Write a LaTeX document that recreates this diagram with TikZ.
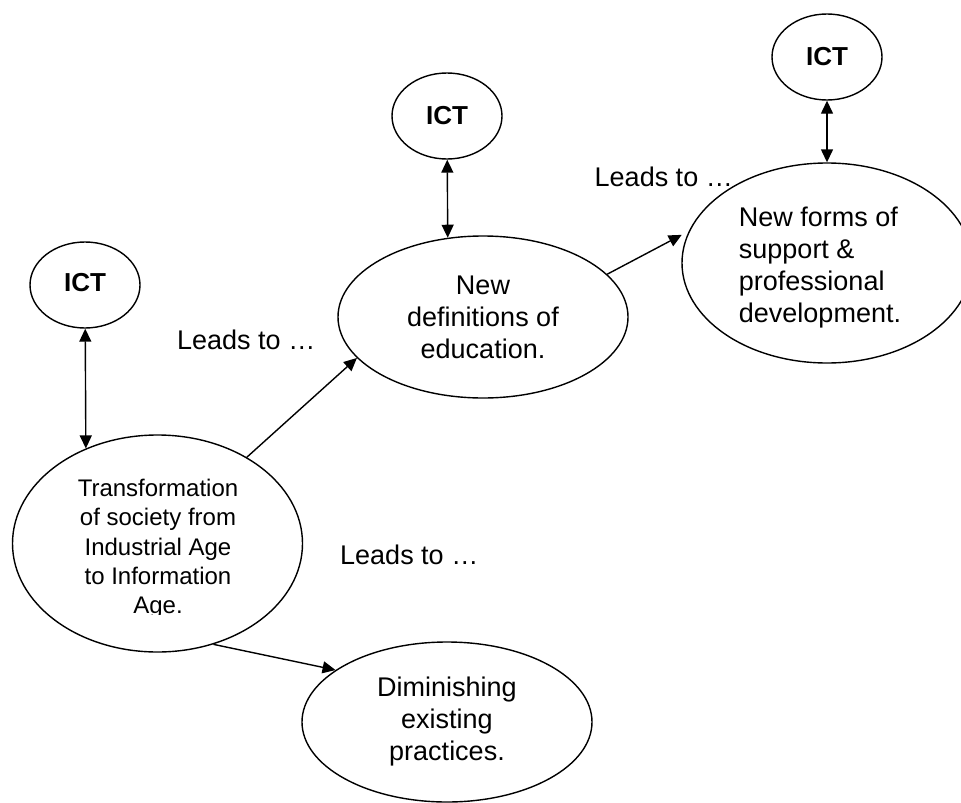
\documentclass[tikz,border=0pt]{standalone}
\usepackage{fontspec}
\setmainfont{Liberation Sans}
\usetikzlibrary{shapes.geometric,arrows.meta}
\begin{document}
\begin{tikzpicture}[x=1pt,y=-1pt,
  bubble/.style={draw, ellipse, line width=1.4pt, inner sep=0pt, minimum width=290pt},
  ictbubble/.style={draw, ellipse, line width=1.4pt, inner sep=0pt,
    minimum width=110pt, minimum height=86pt, font=\fontsize{26}{31}\selectfont\bfseries},
  body/.style={inner sep=0pt, font=\fontsize{27}{32}\selectfont},
  tip/.tip={Triangle[length=13pt,width=12pt]},
  link/.style={line width=1.4pt, -tip},
  twoway/.style={line width=1.4pt, tip-tip}]
\useasboundingbox (0,0) rectangle (961,803);
\clip (0,0) rectangle (961,803);

% idea bubbles
\node[bubble, minimum height=217pt] (trans) at (157.5,543.5) {};
\begin{scope}
  \clip (0,440) rectangle (320,614.5);
  \node[inner sep=0pt, align=center, font=\fontsize{24}{29.3}\selectfont] (transtext) at (158,549)
    {Transformation\\of society from\\Industrial Age\\to Information\\Age.};
\end{scope}
\node[bubble, minimum height=162pt, body, align=center] (newdef) at (483,317)
  {New\\definitions of\\education.};
\node[bubble, minimum height=200pt] (newforms) at (827,263) {};
\node[body, align=left] (formstext) at (820,268)
  {New forms of\\support \&\\professional\\development.};
\node[bubble, minimum height=160pt, body, align=center] (dim) at (447,722)
  {Diminishing\\existing\\practices.};

% ICT bubbles
\node[ictbubble] (ict1) at (85,285) {\raisebox{6pt}{ICT}};
\node[ictbubble] (ict2) at (447,116) {\raisebox{2pt}{ICT}};
\node[ictbubble] (ict3) at (827,57) {\raisebox{2pt}{ICT}};

% labels
\node[body, anchor=west] (lead1) at (177,340) {Leads to …};
\node[body, anchor=west] (lead2) at (340,555) {Leads to …};
\node[body, anchor=east] (lead3) at (733,177) {Leads to …};

% connectors
\draw[twoway] (ict1) -- (trans.127.6);
\draw[twoway] (ict2) -- (newdef.114.6);
\draw[twoway] (ict3) -- (newforms.north);
\draw[link] (trans.44.8) -- (newdef.198.3);
\draw[link, shorten >=8pt] (newdef.19.5) -- (newforms.167);
\draw[link] (trans.299.6) -- (dim.155.6);
\end{tikzpicture}
\end{document}
